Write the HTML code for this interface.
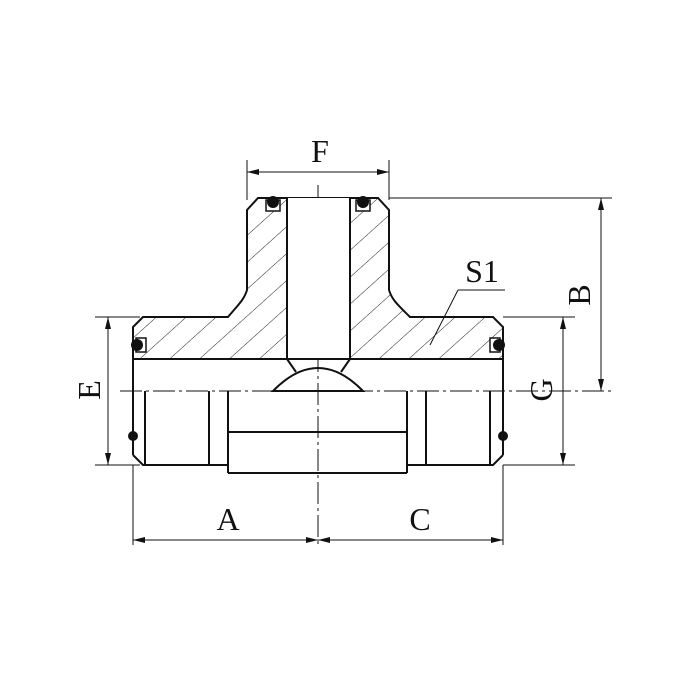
<!DOCTYPE html>
<html><head><style>html,body{margin:0;padding:0;background:#fff}svg{display:block}</style></head>
<body>
<svg width="700" height="700" viewBox="0 0 700 700" xmlns="http://www.w3.org/2000/svg">
<defs>
<pattern id="h" patternUnits="userSpaceOnUse" width="20" height="20" patternTransform="rotate(48)">
<line x1="0" y1="0" x2="0" y2="20" stroke="#222" stroke-width="1"/>
</pattern>
<marker id="a" markerWidth="12" markerHeight="6" refX="12" refY="3" orient="auto-start-reverse" markerUnits="userSpaceOnUse">
<path d="M0,0 L12,3 L0,6 z" fill="#111"/></marker>
</defs>
<g fill="none" stroke="#111" stroke-width="1">
<line x1="247" y1="160" x2="247" y2="200"/>
<line x1="389" y1="160" x2="389" y2="200"/>
<line x1="389" y1="198" x2="612" y2="198"/>
<line x1="503" y1="317" x2="575" y2="317"/>
<line x1="95" y1="317" x2="140" y2="317"/>
<line x1="95" y1="465" x2="140" y2="465"/>
<line x1="503" y1="465" x2="575" y2="465"/>
<line x1="133" y1="465" x2="133" y2="545"/>
<line x1="503" y1="465" x2="503" y2="545"/>
<line x1="247" y1="172" x2="389" y2="172" marker-start="url(#a)" marker-end="url(#a)"/>
<line x1="601" y1="198" x2="601" y2="391" marker-start="url(#a)" marker-end="url(#a)"/>
<line x1="563" y1="317" x2="563" y2="465" marker-start="url(#a)" marker-end="url(#a)"/>
<line x1="108" y1="317" x2="108" y2="465" marker-start="url(#a)" marker-end="url(#a)"/>
<line x1="133" y1="540" x2="318" y2="540" marker-start="url(#a)" marker-end="url(#a)"/>
<line x1="318" y1="540" x2="503" y2="540" marker-start="url(#a)" marker-end="url(#a)"/>
<line x1="430" y1="345" x2="458" y2="290"/>
<line x1="458" y1="290" x2="505" y2="290"/>
<line x1="318" y1="185" x2="318" y2="548" stroke-dasharray="22,4,3,4"/>
<line x1="120" y1="391" x2="612" y2="391" stroke-dasharray="22,4,3,4"/>
</g>
<path d="M258,198 L378,198 L389,210 L389,290 C392,300 398,305 410,317 L493,317 L503,327 L503,359 L350,359 L350,198 L287,198 L287,359 L133,359 L133,327 L143,317 L228,317 C238,305 244,300 247,290 L247,210 Z" fill="url(#h)" stroke="#111" stroke-width="2"/>
<path d="M287,198 L287,359 L350,359 L350,198" fill="#fff" stroke="#111" stroke-width="2"/>
<g fill="none" stroke="#111" stroke-width="2">
<line x1="133" y1="359" x2="133" y2="455"/>
<line x1="503" y1="359" x2="503" y2="455"/>
<path d="M133,455 L143,465 L228,465"/>
<path d="M503,455 L493,465 L407,465"/>
<line x1="133" y1="359" x2="503" y2="359"/>
<path d="M287,359 L296,372 M350,359 L341,372"/>
<path d="M273,391 Q318,345 363,391 Z"/>
<line x1="145" y1="391" x2="145" y2="465"/>
<line x1="209" y1="391" x2="209" y2="465"/>
<line x1="228" y1="391" x2="228" y2="473"/>
<line x1="407" y1="391" x2="407" y2="473"/>
<line x1="426" y1="391" x2="426" y2="465"/>
<line x1="490" y1="391" x2="490" y2="465"/>
<line x1="228" y1="432" x2="407" y2="432"/>
<line x1="228" y1="473" x2="407" y2="473"/>
</g>
<g fill="#fff" stroke="#111" stroke-width="1.5">
<rect x="266" y="200" width="14" height="11"/><rect x="356" y="200" width="14" height="11"/>
<rect x="136" y="338" width="10" height="14"/><rect x="490" y="338" width="10" height="14"/>
</g>
<g fill="#111">
<circle cx="273" cy="202" r="6"/><circle cx="363" cy="202" r="6"/>
<circle cx="137" cy="345" r="6"/><circle cx="499" cy="345" r="6"/>
<circle cx="133" cy="436" r="5"/><circle cx="503" cy="436" r="5"/>
</g>
<g font-family="Liberation Serif, serif" font-size="32" fill="#111" text-anchor="middle">
<text x="320" y="162">F</text>
<text x="228" y="530">A</text>
<text x="420" y="530">C</text>
<text x="482" y="282">S1</text>
<text transform="translate(590,295) rotate(-90)">B</text>
<text transform="translate(552,390) rotate(-90)">G</text>
<text transform="translate(100,390) rotate(-90)">E</text>
</g>
</svg>
</body></html>
